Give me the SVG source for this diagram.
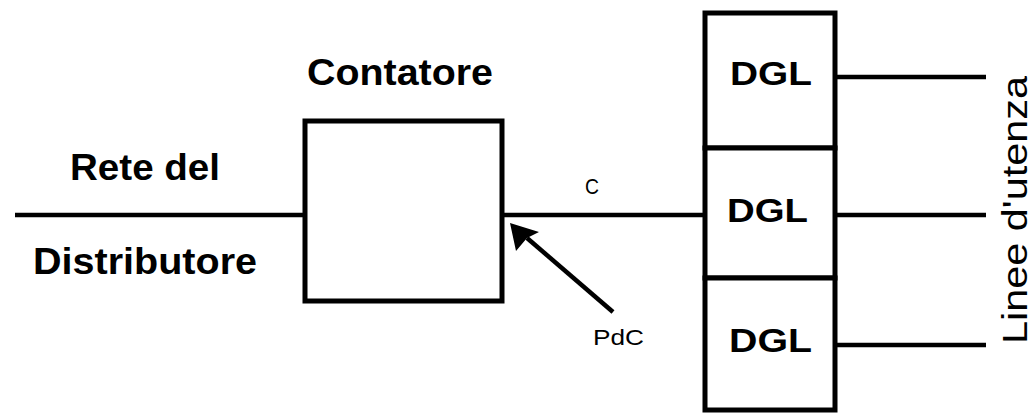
<svg xmlns="http://www.w3.org/2000/svg" width="1036" height="414" viewBox="0 0 1036 414">
  <style>
    .box { fill: #ffffff; stroke: #000000; stroke-width: 5; }
    .wire { fill: none; stroke: #000000; stroke-width: 4.5; stroke-linecap: butt; }
    .lbl { font-family: "Liberation Sans", Arial, sans-serif; font-weight: bold; font-size: 36px; fill: #000000; }
    .dgl { font-family: "Liberation Sans", Arial, sans-serif; font-weight: bold; font-size: 33px; fill: #000000; }
    .small { font-family: "Liberation Sans", Arial, sans-serif; font-size: 22px; fill: #000000; }
    .side { font-family: "Liberation Sans", Arial, sans-serif; font-size: 35px; fill: #000000; }
  </style>
  <rect width="1036" height="414" fill="#ffffff"/>

  <g id="connectors">
    <line class="wire" x1="15" y1="215" x2="305" y2="215"/>
    <line class="wire" x1="502" y1="215" x2="705" y2="215"/>
    <line class="wire" x1="835" y1="77" x2="986" y2="77"/>
    <line class="wire" x1="835" y1="215" x2="986" y2="215"/>
    <line class="wire" x1="835" y1="345" x2="986" y2="345"/>
    <line x1="613" y1="312" x2="527" y2="238" stroke="#000" stroke-width="4.5"/>
    <polygon points="510,223 539,232 527,238 516,251" fill="#000"/>
  </g>

  <g id="rete">
    <text class="lbl" x="70" y="180" textLength="150" lengthAdjust="spacingAndGlyphs">Rete del</text>
    <text class="lbl" x="33" y="274" textLength="224" lengthAdjust="spacingAndGlyphs">Distributore</text>
  </g>

  <g id="contatore">
    <rect class="box" x="305" y="121" width="197" height="180"/>
    <text class="lbl" x="307" y="85" textLength="186" lengthAdjust="spacingAndGlyphs">Contatore</text>
  </g>

  <g id="label-c">
    <text class="small" x="585" y="194" textLength="14" lengthAdjust="spacingAndGlyphs">C</text>
  </g>

  <g id="pdc">
    <text class="small" x="593" y="345" textLength="51" lengthAdjust="spacingAndGlyphs">PdC</text>
  </g>

  <g id="dgl1">
    <rect class="box" x="705" y="13" width="130" height="135"/>
    <text class="dgl" x="730" y="85" textLength="82" lengthAdjust="spacingAndGlyphs">DGL</text>
  </g>
  <g id="dgl2">
    <rect class="box" x="705" y="148" width="130" height="130"/>
    <text class="dgl" x="727" y="222" textLength="81" lengthAdjust="spacingAndGlyphs">DGL</text>
  </g>
  <g id="dgl3">
    <rect class="box" x="705" y="278" width="130" height="132"/>
    <text class="dgl" x="729" y="352" textLength="83" lengthAdjust="spacingAndGlyphs">DGL</text>
  </g>

  <g id="linee">
    <text class="side" transform="translate(1027,344) rotate(-90)" x="0" y="0" textLength="268" lengthAdjust="spacingAndGlyphs">Linee d'utenza</text>
  </g>
</svg>
